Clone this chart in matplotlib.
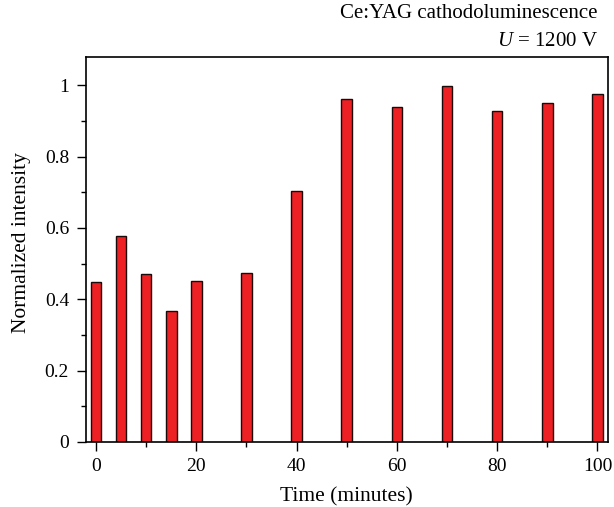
import matplotlib
matplotlib.use('Agg')
import matplotlib.pyplot as plt
from matplotlib.ticker import MultipleLocator

plt.rcParams['font.family'] = ['Liberation Serif', 'DejaVu Serif']
plt.rcParams['mathtext.fontset'] = 'custom'
plt.rcParams['mathtext.it'] = 'Liberation Serif:italic'
plt.rcParams['mathtext.rm'] = 'Liberation Serif'

time_min = [0, 5, 10, 15, 20, 30, 40, 50, 60, 70, 80, 90, 100]
intensity = [0.448, 0.577, 0.470, 0.366, 0.452, 0.475, 0.704,
             0.960, 0.939, 0.999, 0.928, 0.950, 0.975]
ytick_vals = [0, 0.2, 0.4, 0.6, 0.8, 1.0]
ytick_text = ['0', '0.2', '0.4', '0.6', '0.8', '1']

W, H = 614, 507
L, R, T, B = 85.7, 608, 57, 442

fig = plt.figure(figsize=(W/100, H/100), dpi=100)
ax = fig.add_axes([L/W, 1 - B/H, (R-L)/W, (B-T)/H])

ax.bar(time_min, intensity, width=2.1, color='#ed2024',
       edgecolor='#1a0a0a', linewidth=1.0)

ax.set_xlim(-2.06, 102.1)
ax.set_ylim(0, 1.079)
ax.xaxis.set_major_locator(MultipleLocator(20))
ax.xaxis.set_minor_locator(MultipleLocator(10))
ax.yaxis.set_minor_locator(MultipleLocator(0.1))
ax.set_yticks(ytick_vals)
ax.set_yticklabels(ytick_text)
ax.tick_params(which='major', length=6.5, width=1, labelsize=14, direction='out')
ax.tick_params(axis='x', which='major', pad=5)
ax.tick_params(axis='y', which='major', pad=5.5)
ax.tick_params(which='minor', length=3.5, width=1, direction='out')
for s in ax.spines.values():
    s.set_linewidth(1.2)

ax.set_xlabel('Time (minutes)', fontsize=15.5, va='center')
ax.set_ylabel('Normalized intensity', fontsize=15.5, va='center')
ax.xaxis.set_label_coords(0.5, -0.143)
ax.yaxis.set_label_coords(-0.122, 0.518)

fig.text(598/W, 1 - 14/H, 'Ce:YAG cathodoluminescence', ha='right', va='center', fontsize=15)
fig.text(598/W, 1 - 42/H, r'$U$ = 1200 V', ha='right', va='center', fontsize=15)

fig.savefig('out.png', dpi=100)
